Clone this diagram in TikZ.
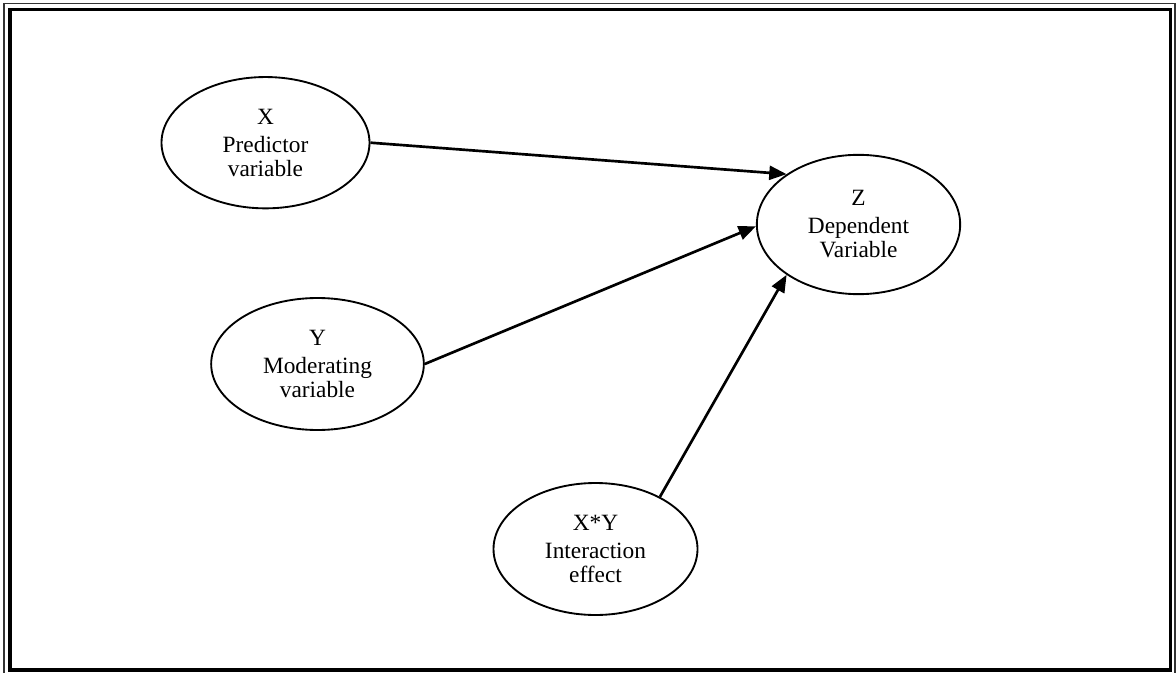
\documentclass[tikz,border=0pt]{standalone}
\usepackage{fontspec}
\setmainfont{Liberation Serif}
\usetikzlibrary{shapes.geometric,arrows.meta}

\tikzset{
  varnode/.style={draw, ellipse, line width=1.4pt, inner sep=0pt, align=center,
    font=\fontsize{17.5pt}{18pt}\selectfont},
  link/.style={line width=2pt, -{Triangle[length=13pt,width=10.5pt]}},
  outerframe/.style={draw, line width=0.9pt, black!80},
  innerframe/.style={draw, line width=2.3pt}
}

\begin{document}
\begin{tikzpicture}[x=0.75pt,y=-0.75pt]
  \useasboundingbox (0,0) rectangle (1176,673);

  % double page frame
  \draw[outerframe] (4,3.5) rectangle (1175,680);
  \draw[innerframe] (10,9.5) rectangle (1170.5,670);

  % variables
  \node[varnode, minimum width=156pt, minimum height=98.5pt] (X) at (265.5,142.7)
    {X\\[3pt]Predictor\\variable};
  \node[varnode, minimum width=152.5pt, minimum height=104.5pt] (Z) at (858.5,224.5)
    {Z\\[3pt]Dependent\\Variable};
  \node[varnode, minimum width=159.5pt, minimum height=99pt] (Y) at (317.5,364)
    {Y\\[3pt]Moderating\\variable};
  \node[varnode, minimum width=153pt, minimum height=99pt] (XY) at (595.5,549)
    {X*Y\\[3pt]Interaction\\effect};

  % effects on the dependent variable
  \draw[link] (X.east) -- (Z.145);
  \draw[link] (Y.east) -- (Z.181);
  \draw[link] (XY.39) -- (Z.215);
\end{tikzpicture}
\end{document}
